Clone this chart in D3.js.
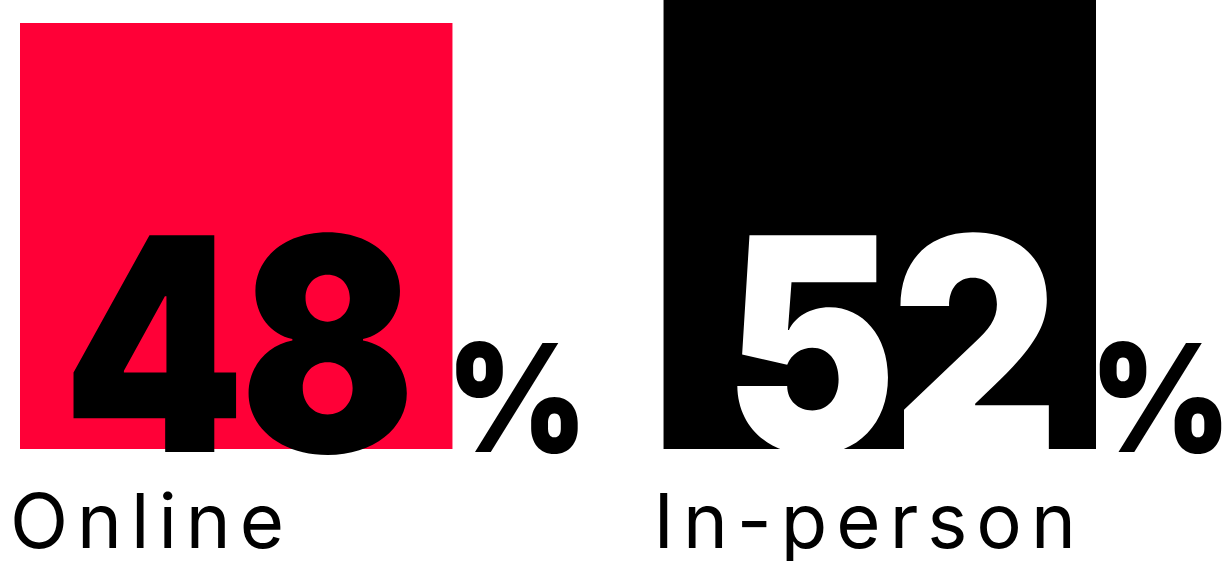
<!DOCTYPE html>
<html>
<head>
<meta charset="utf-8">
<script src="https://cdn.jsdelivr.net/npm/d3@7"></script>
<style>
  body { margin: 0; background: #fff; }
  svg { display: block; }
  .num { font-family: Inter, "Noto Sans", sans-serif; font-weight: 900; }
  .label { font-family: Inter, "Noto Sans", sans-serif; font-weight: 400; }
</style>
</head>
<body>
<svg id="chart"></svg>
<script>
let categories = ["Online", "In-person"];
let values = [48, 52];
let colors = ["#ff0037", "#000000"];
let numberColors = ["#000000", "#ffffff"];

let width = 1226, height = 561;
let svg = d3.select("#chart")
    .attr("width", width)
    .attr("height", height);

let x = d3.scaleBand()
    .domain(categories)
    .range([20, 1096])
    .paddingInner(0.328)
    .paddingOuter(0);

let y = d3.scaleLinear()
    .domain([0, 48])
    .range([449, 23]);

let bar = svg.selectAll(".bar")
    .data(categories)
    .enter().append("g")
    .attr("class", "bar");

bar.append("rect")
    .attr("x", d => x(d))
    .attr("y", (d, i) => y(values[i]))
    .attr("width", x.bandwidth())
    .attr("height", (d, i) => y(0) - y(values[i]))
    .attr("fill", (d, i) => colors[i]);

// big number, right aligned inside the bar, squeezed a bit
bar.append("text")
    .attr("class", "num")
    .attr("transform", d => "translate(" + (x(d) + x.bandwidth() - 42) + "," + (y(0) + 3) + ") scale(0.87,1)")
    .attr("text-anchor", "end")
    .attr("font-size", 298)
    .attr("letter-spacing", -6)
    .attr("fill", (d, i) => numberColors[i])
    .text((d, i) => values[i]);

bar.append("text")
    .attr("class", "num")
    .attr("transform", d => "translate(" + (x(d) + x.bandwidth() - 6) + "," + (y(0) + 3) + ") scale(0.9,1)")
    .attr("font-size", 150)
    .attr("fill", "#000")
    .text("%");

bar.append("text")
    .attr("class", "label")
    .attr("x", d => x(d) - 10)
    .attr("y", 548)
    .attr("font-size", 76)
    .attr("letter-spacing", 9)
    .attr("fill", "#000")
    .text(d => d);
</script>
</body>
</html>
